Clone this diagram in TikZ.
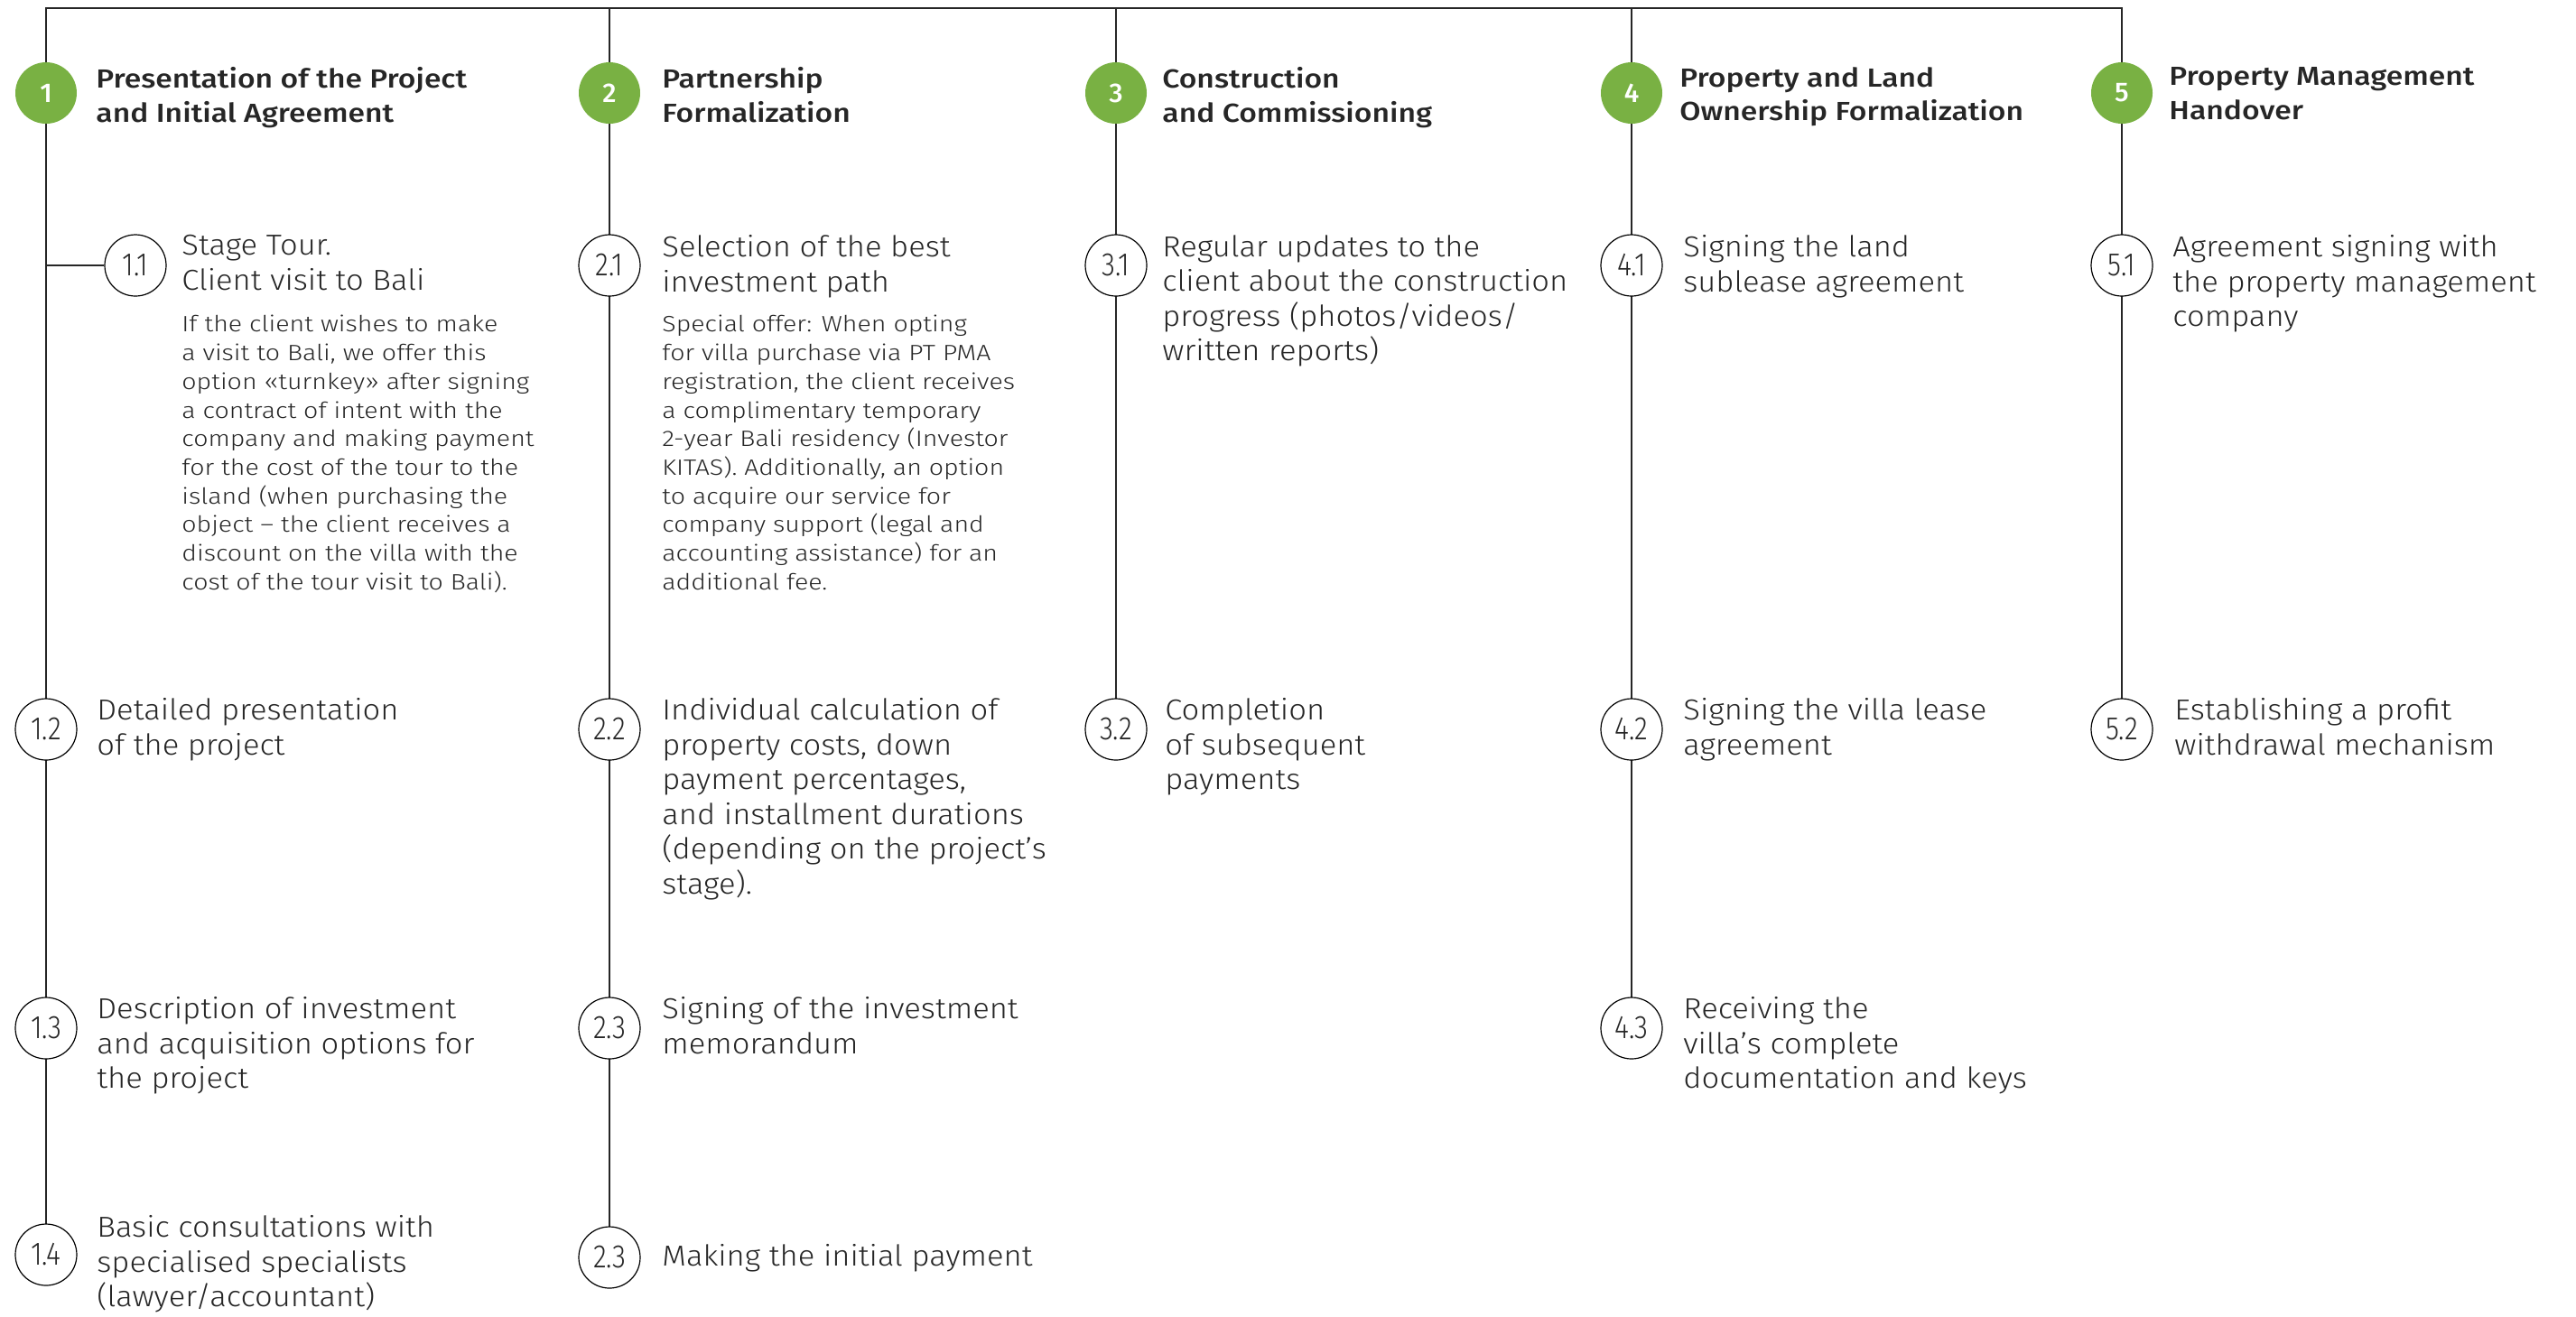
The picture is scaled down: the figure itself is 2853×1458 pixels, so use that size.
\documentclass[tikz,border=0pt]{standalone}
\usepackage{fontspec}
\setmainfont{Fira Sans Light}[BoldFont=Fira Sans Medium]
\newfontfamily\titlefont{Fira Sans Medium}[FakeStretch=1.16]
\newfontfamily\itemfont{Fira Sans Light}[FakeStretch=1.08]
\newfontfamily\notefont{Fira Sans Light}[FakeStretch=1.16]
\usepackage{graphicx}
\usetikzlibrary{backgrounds}

\definecolor{stagegreen}{HTML}{79B143}
\definecolor{ink}{HTML}{262626}

\tikzset{
  stage/.style={circle, fill=stagegreen, text=white, minimum size=34pt, inner sep=0pt,
    font=\bfseries\fontsize{15}{15}\selectfont},
  substage/.style={circle, draw=black, line width=0.6pt, fill=white, minimum size=34pt,
    inner sep=0pt, text=ink, font=\fontsize{18}{18}\selectfont},
  stagetitle/.style={anchor=north west, align=left, inner sep=0pt, text=ink,
    font=\titlefont\fontsize{14.5}{18.8}\selectfont, execute at begin node=\rule{0pt}{0.85em}},
  stagetext/.style={anchor=north west, align=left, inner sep=0pt, text=ink,
    font=\itemfont\fontsize{16}{19.3}\selectfont, execute at begin node=\rule{0pt}{0.85em}},
  stagenote/.style={anchor=north west, align=left, inner sep=0pt, text=ink,
    font=\notefont\fontsize{12.3}{15.85}\selectfont, execute at begin node=\rule{0pt}{0.85em}},
  track/.style={draw=ink, line width=0.7pt}
}
\newcommand{\subnum}[1]{\scalebox{0.85}[1]{#1}}

\begin{document}
\begin{tikzpicture}[x=0.5pt, y=-0.5pt]
\useasboundingbox (0,0) rectangle (2853,1458);

\coordinate (top1) at (51, 9);
\coordinate (top2) at (675, 9);
\coordinate (top3) at (1236, 9);
\coordinate (top4) at (1807, 9);
\coordinate (top5) at (2350, 9);

\node[stage] (s1) at (51, 103) {1};
\node[stage] (s2) at (675, 103) {2};
\node[stage] (s3) at (1236, 103) {3};
\node[stage] (s4) at (1807, 103) {4};
\node[stage] (s5) at (2350, 103) {5};

\node[stagetitle] (t1) at (106, 74) {Presentation of the Project\\and Initial Agreement};
\node[stagetitle] (t2) at (733, 74) {Partnership\\Formalization};
\node[stagetitle] (t3) at (1287, 74) {Construction\\and Commissioning};
\node[stagetitle] (t4) at (1860, 74) {Property and Land\\Ownership Formalization};
\node[stagetitle] (t5) at (2402, 74) {Property Management\\Handover};

\node[substage] (s11) at (150, 294) {\subnum{1.1}};
\node[substage] (s12) at (51, 808) {\subnum{1.2}};
\node[substage] (s13) at (51, 1139) {\subnum{1.3}};
\node[substage] (s14) at (51, 1390) {\subnum{1.4}};

\node[stagetext] (l11) at (201, 260) {Stage Tour.\\Client visit to Bali};
\node[stagenote] (n11) at (201, 349) {If the client wishes to make\\a visit to Bali, we offer this\\option «turnkey» after signing\\a contract of intent with the\\company and making payment\\for the cost of the tour to the\\island (when purchasing the\\object – the client receives a\\discount on the villa with the\\cost of the tour visit to Bali).};
\node[stagetext] (l12) at (107, 773) {Detailed presentation\\of the project};
\node[stagetext] (l13) at (107, 1104) {Description of investment\\and acquisition options for\\the project};
\node[stagetext] (l14) at (107, 1346) {Basic consultations with\\specialised specialists\\(lawyer/accountant)};

\node[substage] (s21) at (675, 294) {\subnum{2.1}};
\node[substage] (s22) at (675, 808) {\subnum{2.2}};
\node[substage] (s23) at (675, 1139) {\subnum{2.3}};
\node[substage] (s24) at (675, 1393) {\subnum{2.3}};

\node[stagetext] (l21) at (733, 260) {Selection of the best\\investment path};
\node[stagenote] (n21) at (733, 349) {Special offer: When opting\\for villa purchase via PT PMA\\registration, the client receives\\a complimentary temporary\\2-year Bali residency (Investor\\KITAS). Additionally, an option\\to acquire our service for\\company support (legal and\\accounting assistance) for an\\additional fee.};
\node[stagetext] (l22) at (733, 773) {Individual calculation of\\property costs, down\\payment percentages,\\and installment durations\\(depending on the project’s\\stage).};
\node[stagetext] (l23) at (733, 1104) {Signing of the investment\\memorandum};
\node[stagetext] (l24) at (733, 1375) {Making the initial payment};

\node[substage] (s31) at (1236, 294) {\subnum{3.1}};
\node[substage] (s32) at (1236, 808) {\subnum{3.2}};

\node[stagetext] (l31) at (1287, 260) {Regular updates to the\\client about the construction\\progress (photos/videos/\\written reports)};
\node[stagetext] (l32) at (1290, 773) {Completion\\of subsequent\\payments};

\node[substage] (s41) at (1807, 294) {\subnum{4.1}};
\node[substage] (s42) at (1807, 808) {\subnum{4.2}};
\node[substage] (s43) at (1807, 1139) {\subnum{4.3}};

\node[stagetext] (l41) at (1864, 260) {Signing the land\\sublease agreement};
\node[stagetext] (l42) at (1864, 773) {Signing the villa lease\\agreement};
\node[stagetext] (l43) at (1864, 1104) {Receiving the\\villa’s complete\\documentation and keys};

\node[substage] (s51) at (2350, 294) {\subnum{5.1}};
\node[substage] (s52) at (2350, 808) {\subnum{5.2}};

\node[stagetext] (l51) at (2406, 260) {Agreement signing with\\the property management\\company};
\node[stagetext] (l52) at (2408, 773) {Establishing a profit\\withdrawal mechanism};

\begin{scope}[on background layer]
\draw[track] (s14.center) -- (top1) -- (top5) -- (s52.center);
\draw[track] (top2) -- (s24.center);
\draw[track] (top3) -- (s32.center);
\draw[track] (top4) -- (s43.center);
\draw[track] (s11) -- (s11 -| s1);
\end{scope}

\end{tikzpicture}
\end{document}
